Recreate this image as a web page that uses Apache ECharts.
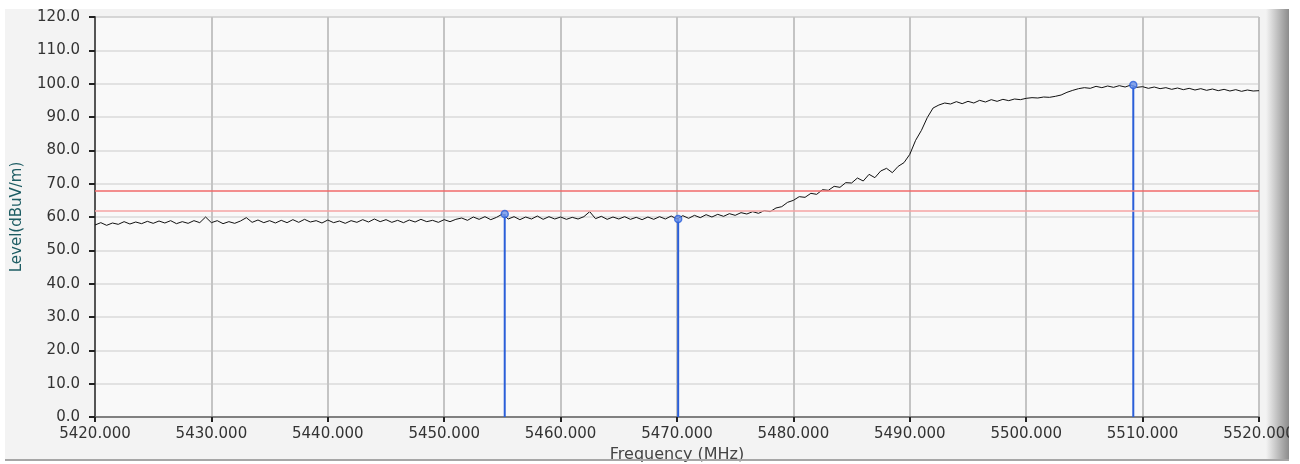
<!DOCTYPE html>
<html lang="en" style="height: 100%">
<head>
<meta charset="utf-8">
<title>Level vs Frequency</title>
</head>
<body style="height: 100%; margin: 0; background: #ffffff">
<div id="container" style="width: 1300px; height: 464px"></div>

<script type="text/javascript" src="https://cdn.jsdelivr.net/npm/echarts@6/dist/echarts.min.js"></script>

<script type="text/javascript">
var dom = document.getElementById('container');
var myChart = echarts.init(dom);

// trace sampled every 0.5 MHz from 5420 to 5520
var freqStart = 5420;
var freqStep = 0.5;
var levels = [
    57.6, 58.3, 57.5, 58.2, 57.8, 58.6, 57.9, 58.5, 58.0, 58.7,
    58.1, 58.8, 58.2, 58.9, 58.0, 58.6, 58.1, 58.9, 58.3, 60.0,
    58.3, 58.9, 58.0, 58.6, 58.1, 58.8, 59.8, 58.4, 59.1, 58.3,
    58.9, 58.2, 59.0, 58.3, 59.2, 58.4, 59.3, 58.5, 58.9, 58.2,
    59.1, 58.3, 58.8, 58.1, 58.9, 58.4, 59.2, 58.5, 59.4, 58.6,
    59.2, 58.4, 59.0, 58.3, 59.1, 58.5, 59.3, 58.6, 59.0, 58.4,
    59.2, 58.6, 59.3, 59.7, 59.0, 60.0, 59.3, 60.1, 59.2, 59.9,
    60.9, 59.4, 60.1, 59.2, 60.0, 59.4, 60.3, 59.3, 60.1, 59.4,
    60.0, 59.3, 59.9, 59.4, 60.1, 61.6, 59.5, 60.2, 59.3, 60.0,
    59.4, 60.1, 59.3, 59.9, 59.2, 60.0, 59.3, 60.1, 59.4, 60.3,
    59.4, 60.4, 59.6, 60.5, 59.8, 60.7, 60.0, 60.8, 60.2, 61.0,
    60.5, 61.3, 60.9, 61.6, 61.1, 61.9, 61.6, 62.7, 63.1, 64.4,
    65.0, 66.1, 65.9, 67.1, 66.8, 68.2, 68.0, 69.2, 68.9, 70.3,
    70.2, 71.7, 70.8, 72.8, 71.8, 73.8, 74.6, 73.3, 75.2, 76.3,
    78.8, 83.0, 86.0, 89.8, 92.7, 93.6, 94.2, 93.9, 94.6, 94.0,
    94.7, 94.2, 95.0, 94.5, 95.2, 94.7, 95.3, 94.9, 95.4, 95.2,
    95.6, 95.8, 95.7, 96.0, 95.9, 96.2, 96.6, 97.4, 98.0, 98.5,
    98.8, 98.6, 99.2, 98.8, 99.3, 98.9, 99.4, 99.0, 99.6, 98.9,
    99.1, 98.6, 99.0, 98.5, 98.8, 98.3, 98.7, 98.2, 98.6, 98.1,
    98.5, 98.0, 98.4, 97.9, 98.3, 97.8, 98.2, 97.7, 98.1, 97.8, 97.9
];

// limit lines (dBuV/m)
var limitLevels = [68.0, 61.8];
var limitColors = ['#f06a6a', '#f5a3a3'];

// markers
var markerFreqs = [5455.2, 5470.1, 5509.2];
var markerLevels = [60.9, 59.4, 99.6];

var trace = levels.map(function (v, i) {
    return [freqStart + i * freqStep, v];
});
var markerData = markerFreqs.map(function (f, i) {
    return [f, markerLevels[i]];
});

var labelFont = 'DejaVu Sans';

option = {
    backgroundColor: '#ffffff',
    animation: false,
    graphic: [
        {
            type: 'rect', z: -10, silent: true,
            shape: {x: 5, y: 9, width: 1285, height: 450},
            style: {fill: '#f3f3f3'}
        },
        {
            type: 'rect', z: -9, silent: true,
            shape: {x: 1266, y: 9, width: 23, height: 451},
            style: {
                fill: new echarts.graphic.LinearGradient(0, 0, 1, 0, [
                    {offset: 0, color: '#f3f3f3'},
                    {offset: 1, color: '#8c8c8c'}
                ])
            }
        },
        {
            type: 'rect', z: 100, silent: true,
            shape: {x: 1289, y: 0, width: 11, height: 464},
            style: {fill: '#ffffff'}
        },
        {
            type: 'rect', z: 100, silent: true,
            shape: {x: 5, y: 459, width: 1284, height: 2},
            style: {fill: '#a6a6a6'}
        }
    ],
    grid: {
        left: 95,
        right: 41,
        top: 17,
        bottom: 47,
        outerBoundsMode: 'none',
        containLabel: false,
        show: true,
        backgroundColor: '#f9f9f9',
        borderColor: '#9a9a9a',
        borderWidth: 1
    },
    xAxis: {
        type: 'value',
        min: 5420,
        max: 5520,
        interval: 10,
        name: 'Frequency (MHz)',
        nameLocation: 'middle',
        nameGap: 27,
        nameTextStyle: {color: '#444', fontSize: 16, fontFamily: labelFont},
        axisLine: {show: true, lineStyle: {color: '#666', width: 1.5}},
        axisTick: {show: true, length: 5, lineStyle: {color: '#222', width: 2}},
        axisLabel: {
            color: '#333',
            fontSize: 15,
            fontFamily: labelFont,
            margin: 10,
            formatter: function (v) { return v.toFixed(3); }
        },
        splitLine: {show: true, lineStyle: {color: '#c4c4c4', width: 2}}
    },
    yAxis: {
        type: 'value',
        min: 0,
        max: 120,
        interval: 10,
        name: 'Level(dBuV/m)',
        nameLocation: 'middle',
        nameGap: 70,
        nameTextStyle: {color: '#1d5c63', fontSize: 15, fontFamily: labelFont},
        axisLine: {show: true, lineStyle: {color: '#555', width: 2}},
        axisTick: {show: true, length: 6, lineStyle: {color: '#222', width: 2}},
        axisLabel: {
            color: '#333',
            fontSize: 15,
            fontFamily: labelFont,
            margin: 15,
            formatter: function (v) { return v.toFixed(1); }
        },
        splitLine: {show: true, lineStyle: {color: '#dadada', width: 1.5}}
    },
    series: [
        {
            name: 'Level',
            type: 'line',
            data: trace,
            symbol: 'none',
            lineStyle: {color: '#111', width: 1},
            z: 3,
            markLine: {
                silent: true,
                symbol: 'none',
                label: {show: false},
                data: limitLevels.map(function (l, i) {
                    return {yAxis: l, lineStyle: {color: limitColors[i], width: 1.5, type: 'solid'}};
                })
            }
        },
        {
            name: 'Marker',
            type: 'bar',
            data: markerData,
            barWidth: 2,
            itemStyle: {color: '#2b5fd9'},
            z: 4
        },
        {
            name: 'MarkerTop',
            type: 'scatter',
            data: markerData,
            symbol: 'circle',
            symbolSize: 7,
            itemStyle: {color: '#6f95ea', borderColor: '#2b5fd9', borderWidth: 1.5},
            z: 5
        }
    ]
};

myChart.setOption(option);
window.addEventListener('resize', myChart.resize);
</script>
</body>
</html>
